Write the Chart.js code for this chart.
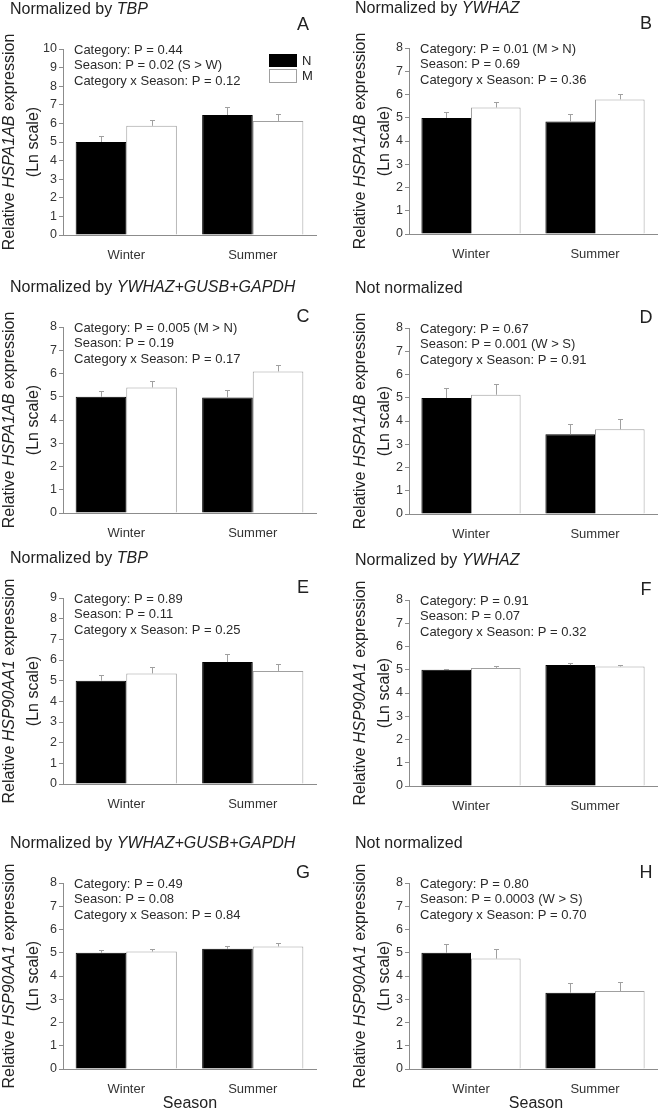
<!DOCTYPE html>
<html>
<head>
<meta charset="utf-8">
<script src="https://cdn.jsdelivr.net/npm/chart.js@4.4.1/dist/chart.umd.min.js"></script>
<style>
  body { margin: 0; background: #fff; }
  #wrap { position: relative; width: 666px; height: 1113px; overflow: hidden; }
  canvas { position: absolute; }
</style>
</head>
<body>
<div id="wrap"></div>
<script>
// data
const seasons = ['Winter', 'Summer'];
const panelLetters = ['A', 'B', 'C', 'D', 'E', 'F', 'G', 'H'];
const titlePrefix = ['Normalized by ', 'Normalized by ', 'Normalized by ', 'Not normalized',
                     'Normalized by ', 'Normalized by ', 'Normalized by ', 'Not normalized'];
const titleGene = ['TBP', 'YWHAZ', 'YWHAZ+GUSB+GAPDH', '', 'TBP', 'YWHAZ', 'YWHAZ+GUSB+GAPDH', ''];
const targetGene = ['HSPA1AB', 'HSPA1AB', 'HSPA1AB', 'HSPA1AB', 'HSP90AA1', 'HSP90AA1', 'HSP90AA1', 'HSP90AA1'];
const yMax = [10, 8, 8, 8, 9, 8, 8, 8];

const meanN = [[5.00, 6.45], [4.99, 4.84], [5.00, 4.97], [4.99, 3.43],
               [5.00, 5.90], [5.00, 5.20], [5.00, 5.17], [5.00, 3.28]];
const seN   = [[0.34, 0.43], [0.24, 0.30], [0.26, 0.32], [0.41, 0.43],
               [0.29, 0.39], [0.05, 0.07], [0.10, 0.12], [0.39, 0.42]];
const meanM = [[5.87, 6.13], [5.44, 5.79], [5.40, 6.09], [5.13, 3.64],
               [5.35, 5.47], [5.08, 5.14], [5.05, 5.27], [4.75, 3.35]];
const seM   = [[0.33, 0.39], [0.25, 0.22], [0.27, 0.26], [0.44, 0.43],
               [0.31, 0.34], [0.06, 0.05], [0.12, 0.13], [0.41, 0.39]];

const statLines = [
  ['Category: P = 0.44', 'Season: P = 0.02 (S > W)', 'Category x Season: P = 0.12'],
  ['Category: P = 0.01 (M > N)', 'Season: P = 0.69', 'Category x Season: P = 0.36'],
  ['Category: P = 0.005 (M > N)', 'Season: P = 0.19', 'Category x Season: P = 0.17'],
  ['Category: P = 0.67', 'Season: P = 0.001 (W > S)', 'Category x Season: P = 0.91'],
  ['Category: P = 0.89', 'Season: P = 0.11', 'Category x Season: P = 0.25'],
  ['Category: P = 0.91', 'Season: P = 0.07', 'Category x Season: P = 0.32'],
  ['Category: P = 0.49', 'Season: P = 0.08', 'Category x Season: P = 0.84'],
  ['Category: P = 0.80', 'Season: P = 0.0003 (W > S)', 'Category x Season: P = 0.70']
];

// layout (canvas px)
const canvasTop = [1, 0, 279, 280, 550, 552, 835, 835];
const axisLeft = [63, 76];
const plotRight = [316, 324];
const yTitleX = [[9.5, 34], [28, 52]];
const titleX = [10, 22];
const letterX = [303, 313];
const seasonX = [190, 203];
const PLOT_TOP = 48, PLOT_H = 186, CW = 333;
const FONT = '"Liberation Sans", Arial, sans-serif';
const TXT = '#222';

function drawRich(ctx, parts, x, y, size, align) {
  const fonts = parts.map(p => (p[1] ? 'italic ' : '') + size + 'px ' + FONT);
  const widths = parts.map((p, k) => { ctx.font = fonts[k]; return ctx.measureText(p[0]).width; });
  const total = widths.reduce((s, w) => s + w, 0);
  let cx = align === 'center' ? x - total / 2 : x;
  ctx.textAlign = 'left';
  ctx.textBaseline = 'middle';
  parts.forEach((p, k) => {
    ctx.font = fonts[k];
    ctx.fillText(p[0], cx, y);
    cx += widths[k];
  });
}

const errorBars = {
  id: 'errorBars',
  afterDatasetsDraw(chart, args, opts) {
    const ctx = chart.ctx, y = chart.scales.y;
    ctx.save();
    ctx.strokeStyle = '#a0a0a0';
    ctx.lineWidth = 1;
    chart.data.datasets.forEach((ds, i) => {
      chart.getDatasetMeta(i).data.forEach((bar, j) => {
        const top = y.getPixelForValue(ds.data[j] + ds.se[j]);
        const bx = Math.round(bar.x) + 0.5;
        ctx.beginPath();
        ctx.moveTo(bx, bar.y);
        ctx.lineTo(bx, Math.round(top) + 0.5);
        ctx.moveTo(bx - 2.5, Math.round(top) + 0.5);
        ctx.lineTo(bx + 2.5, Math.round(top) + 0.5);
        ctx.stroke();
      });
    });
    ctx.restore();
  }
};

const panelText = {
  id: 'panelText',
  afterDraw(chart, args, o) {
    const ctx = chart.ctx, a = chart.chartArea;
    ctx.save();
    ctx.fillStyle = TXT;
    // panel title
    const tparts = [[o.prefix, false]];
    if (o.gene) tparts.push([o.gene, true]);
    drawRich(ctx, tparts, o.titleX, 9, 16, 'left');
    // letter
    ctx.font = '18px ' + FONT;
    ctx.textAlign = 'center';
    ctx.textBaseline = 'middle';
    ctx.fillText(o.letter, o.letterX, o.letterY);
    // y title
    const cy = (a.top + a.bottom) / 2;
    [[o.yTitle[0], [['Relative ', false], [o.target, true], [' expression', false]]],
     [o.yTitle[1], [['(Ln scale)', false]]]].forEach(([x, parts]) => {
      ctx.save();
      ctx.translate(x, cy);
      ctx.rotate(-Math.PI / 2);
      drawRich(ctx, parts, 0, 0, 16, 'center');
      ctx.restore();
    });
    // statistics
    ctx.fillStyle = '#2a2a2a';
    ctx.font = '13px ' + FONT;
    ctx.textAlign = 'left';
    o.stats.forEach((s, k) => ctx.fillText(s, a.left + 11, a.top + 1 + k * 15.5));
    // legend
    if (o.legend) {
      ctx.fillStyle = '#000';
      ctx.fillRect(269, 53, 28, 13);
      ctx.fillStyle = '#fff';
      ctx.fillRect(269.5, 68.5, 27, 13);
      ctx.strokeStyle = '#a0a0a0';
      ctx.strokeRect(269.5, 68.5, 27, 13);
      ctx.fillStyle = TXT;
      ctx.font = '13px ' + FONT;
      ctx.fillText('N', 302, 60);
      ctx.fillText('M', 302, 75.5);
    }
    // x title
    if (o.season) {
      ctx.fillStyle = TXT;
      ctx.font = '16px ' + FONT;
      ctx.textAlign = 'center';
      ctx.fillText('Season', o.seasonX, a.bottom + 35);
    }
    ctx.restore();
  }
};

const wrap = document.getElementById('wrap');
panelLetters.forEach((letter, i) => {
  const col = i % 2, row = Math.floor(i / 2);
  const H = row === 3 ? 278 : 280;
  const cv = document.createElement('canvas');
  cv.width = CW; cv.height = H;
  cv.style.left = (col * CW) + 'px';
  cv.style.top = canvasTop[i] + 'px';
  cv.style.width = CW + 'px'; cv.style.height = H + 'px';
  wrap.appendChild(cv);

  new Chart(cv.getContext('2d'), {
    type: 'bar',
    data: {
      labels: seasons,
      datasets: [
        { label: 'N', data: meanN[i], se: seN[i], backgroundColor: '#000', borderColor: '#000', borderWidth: 1 },
        { label: 'M', data: meanM[i], se: seM[i], backgroundColor: '#fff', borderColor: '#a0a0a0', borderWidth: 1 }
      ]
    },
    options: {
      responsive: false,
      animation: false,
      events: [],
      categoryPercentage: 0.8,
      barPercentage: 1.0,
      layout: { padding: { top: PLOT_TOP, right: CW - plotRight[col], left: 0, bottom: 0 } },
      plugins: {
        legend: { display: false },
        tooltip: { enabled: false },
        panelText: {
          prefix: titlePrefix[i], gene: titleGene[i], target: targetGene[i],
          titleX: titleX[col], letter: letter, letterX: letterX[col], letterY: row === 0 ? 24 : 38,
          yTitle: yTitleX[col], stats: statLines[i], legend: i === 0,
          season: row === 3, seasonX: seasonX[col]
        }
      },
      scales: {
        x: {
          grid: { display: false },
          border: { display: true, color: '#8c8c8c' },
          ticks: { color: '#333', font: { family: FONT, size: 13 }, padding: 5 },
          afterFit: s => { s.height = H - PLOT_TOP - PLOT_H; }
        },
        y: {
          min: 0, max: yMax[i],
          ticks: { stepSize: 1, color: '#333', font: { family: FONT, size: 12.5 }, padding: 2 },
          grid: { drawOnChartArea: false, drawTicks: true, tickLength: 4, color: '#8c8c8c' },
          border: { display: true, color: '#8c8c8c' },
          afterFit: s => { s.width = axisLeft[col]; }
        }
      }
    },
    plugins: [errorBars, panelText]
  });
});
</script>
</body>
</html>
